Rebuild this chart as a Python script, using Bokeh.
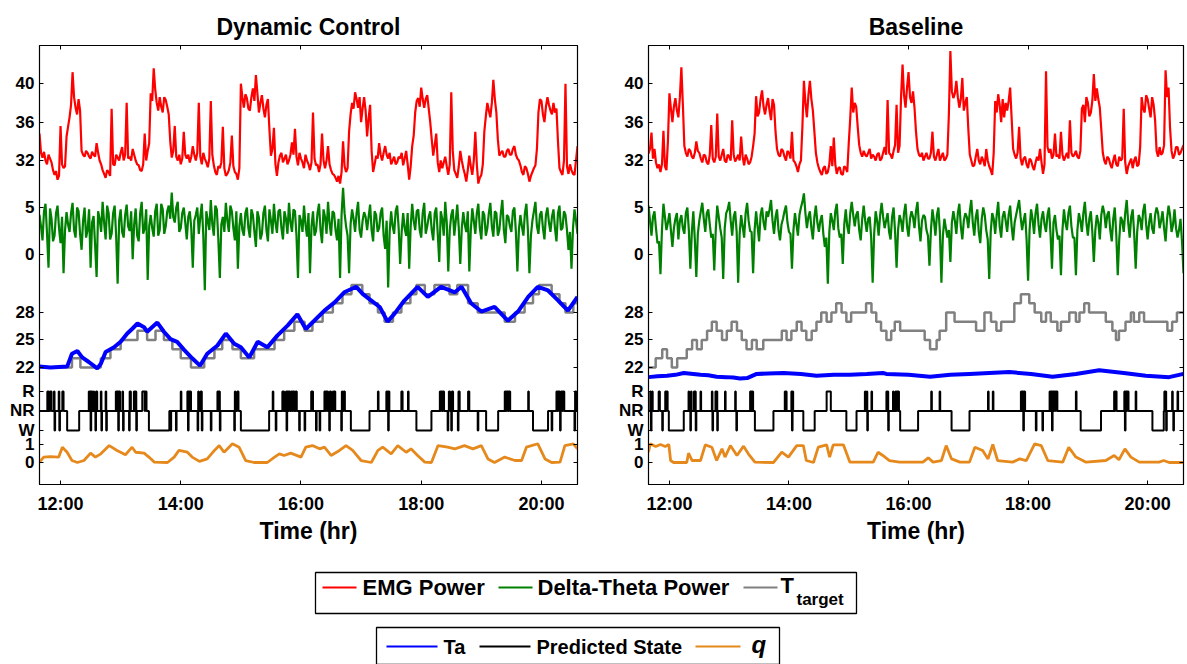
import numpy as np
from bokeh.plotting import figure
from bokeh.layouts import column, row
from bokeh.models import Range1d, FixedTicker, LinearAxis
from bokeh.core.properties import value
from bokeh.embed import file_html
from bokeh.resources import INLINE

# ---------------- data (hours of day) ----------------
# power traces: samples every DT hours from T0, plus the readings half-way between them
T0, DT = 11.65, 0.05

emg_dyn = [
    34.8, 32.3, 32.0, 32.6, 31.8, 30.5, 30.0, 35.6, 31.2, 34.5,
    36.5, 41.2, 37.5, 38.4, 33.0, 32.4, 32.8, 32.2, 32.6, 33.8,
    32.0, 31.0, 30.2, 30.8, 37.4, 31.5, 32.3, 32.8, 32.0, 38.0,
    32.4, 33.2, 32.0, 31.5, 30.9, 34.8, 33.0, 39.0, 41.6, 38.0,
    38.6, 37.0, 38.3, 36.8, 32.3, 35.6, 32.0, 31.6, 35.0, 32.2,
    31.8, 33.5, 32.0, 38.0, 31.6, 32.2, 31.3, 38.2, 31.5, 30.5,
    31.2, 35.5, 30.4, 31.0, 34.6, 30.8, 30.0, 40.0, 37.5, 38.5,
    37.2, 39.5, 40.9, 37.0, 38.8, 36.5, 38.4, 32.5, 35.4, 30.4,
    32.5, 31.8, 32.6, 32.0, 33.9, 35.3, 31.5, 32.2, 31.2, 32.0,
    31.0, 37.0, 31.5, 30.8, 34.8, 31.2, 33.5, 31.0, 30.5, 29.8,
    29.6, 34.0, 30.8, 35.0, 38.0, 39.1, 37.5, 36.0, 38.6, 34.5,
    37.8, 30.8, 32.5, 33.8, 32.0, 33.5, 32.2, 31.6, 32.4, 31.8,
    32.2, 31.5, 33.0, 30.0, 33.5, 37.0, 38.5, 39.6, 37.5, 38.8,
    36.0, 32.5, 34.8, 30.8, 31.2, 32.4, 30.5, 39.1, 31.0, 30.2,
    33.0, 31.2, 29.8, 32.5, 30.5, 35.0, 29.6, 30.5, 35.0, 38.0,
    36.5, 40.4, 37.0, 32.5, 33.0, 32.4, 33.2, 32.6, 33.5, 32.2,
    31.5, 30.5, 31.2, 29.8, 30.8, 31.5, 37.0, 38.2, 36.0, 38.6,
    37.2, 38.0, 37.4, 31.2, 30.5, 40.0, 30.6, 31.0, 30.5, 33.5,
]
emg_dyn_mid = [
    32.8, 32.9, 31.6, 32.2, 31.0, 30.9, 30.4, 31.6, 31.4, 35.5,
    37.8, 38.6, 36.8, 37.2, 32.6, 33.0, 32.4, 32.9, 32.4, 32.8,
    31.6, 30.6, 31.0, 30.4, 31.6, 32.6, 32.0, 33.4, 32.6, 32.2,
    32.0, 32.6, 31.6, 31.0, 31.6, 32.0, 33.8, 38.2, 39.4, 37.2,
    37.6, 38.6, 37.6, 34.0, 33.0, 32.4, 32.6, 32.2, 32.6, 32.6,
    32.4, 32.6, 32.8, 32.4, 32.8, 31.8, 32.2, 32.6, 30.8, 31.4,
    31.8, 31.2, 30.6, 31.8, 31.4, 30.6, 31.2, 38.6, 38.9, 37.4,
    38.6, 38.2, 39.0, 38.0, 37.4, 37.8, 35.2, 33.2, 31.6, 31.8,
    32.8, 32.2, 31.6, 32.6, 32.6, 32.4, 32.8, 31.8, 32.6, 31.6,
    31.8, 32.2, 31.6, 31.6, 32.0, 32.0, 31.6, 30.6, 30.2, 30.4,
    30.8, 31.4, 31.2, 36.8, 37.4, 38.4, 38.6, 37.4, 37.2, 36.4,
    33.0, 31.6, 32.2, 32.6, 32.8, 32.6, 32.8, 32.0, 31.6, 32.4,
    32.8, 32.2, 31.6, 31.4, 34.6, 38.2, 37.6, 38.4, 38.4, 37.4,
    34.2, 33.6, 31.8, 32.0, 31.8, 31.4, 31.6, 33.0, 30.6, 31.4,
    32.0, 30.6, 31.0, 31.4, 32.0, 31.6, 30.2, 31.6, 36.6, 37.2,
    38.0, 38.4, 34.2, 32.8, 32.4, 33.0, 32.6, 33.2, 32.6, 32.0,
    30.8, 31.4, 30.6, 30.4, 31.2, 33.2, 38.4, 36.8, 37.6, 37.8,
    36.8, 37.0, 34.0, 30.8, 32.0, 31.4, 31.6, 30.6, 32.0,
]

delta_dyn = [
    4.2, 1.5, 5.4, -1.4, 3.8, 2.0, 5.2, 1.2, -2.0, 4.5,
    2.4, 5.5, 1.8, 4.6, 0.5, 5.0, 2.6, -1.4, 4.1, -2.4,
    3.8, 5.6, 1.6, 4.4, 2.2, 5.2, -3.1, 4.8, 1.8, 5.3,
    2.5, -0.5, 4.9, 1.4, 5.6, 2.8, -2.7, 4.2, 1.9, 5.4,
    2.6, 4.8, 3.0, 5.2, 6.6, 3.4, 5.6, 2.8, 5.0, 1.6,
    4.6, -1.4, 4.2, 2.2, 5.4, -3.8, 3.6, 5.8, 2.0, 4.8,
    -2.5, 4.0, 5.5, 2.4, 4.6, 1.5, -1.5, 4.4, 2.0, 5.0,
    1.8, 4.2, 0.8, 3.9, 2.2, 5.2, 1.4, 3.6, 5.4, 2.3,
    4.8, 1.6, 3.8, 5.5, 2.4, 4.6, -2.5, 3.6, 5.2, 1.9,
    -2.0, 4.6, 2.5, 5.4, 1.2, 4.0, 5.6, 2.0, 4.4, 1.5,
    -2.5, 7.1, 3.0, -2.0, 4.8, 2.4, 5.6, 1.8, 4.5, 2.6,
    5.3, 1.4, 4.2, 2.8, 5.0, 0.6, -3.5, 4.6, 2.2, 5.2,
    -1.0, 4.4, 2.0, -1.5, 5.4, 2.6, 4.8, 1.8, 5.5, 3.0,
    4.6, 1.5, 5.0, -0.8, 3.8, 5.6, -1.8, 4.2, 2.0, 5.3,
    -1.0, 4.5, 2.4, -1.8, 4.9, 2.2, 5.4, 1.6, 4.2, 2.8,
    5.5, 1.9, 4.4, 2.6, 5.8, 1.2, 4.0, 2.4, 5.0, -1.8,
    4.2, 2.0, 5.4, -2.0, 3.6, 5.6, 2.2, 4.6, 1.6, 5.0,
    2.4, 4.8, 1.4, 5.2, 2.8, 4.2, 0.5, -1.5, 4.8, 2.2,
]
delta_dyn_mid = [
    3.0, 4.6, 2.2, 4.9, 1.4, 4.4, 2.8, 4.0, 2.6, 3.2,
    4.4, 2.6, 5.0, 2.2, 3.6, 1.8, 4.8, 3.4, 1.0, 4.6,
    2.4, 3.4, 5.2, 1.6, 4.4, 2.0, 3.6, 2.4, 4.2, 3.0,
    4.6, 3.2, 2.0, 4.4, 2.2, 4.8, 3.0, 2.8, 4.6, 2.0,
    5.4, 2.2, 4.6, 3.8, 4.0, 5.0, 2.4, 4.4, 3.4, 4.0,
    2.8, 3.6, 5.0, 4.0, 2.0, 4.6, 2.6, 3.2, 5.2, 1.6,
    3.2, 2.4, 3.6, 5.2, 2.8, 4.6, 3.0, 2.6, 4.4, 2.8,
    4.8, 2.4, 4.6, 1.6, 4.4, 2.6, 4.8, 2.2, 3.4, 4.6,
    2.8, 4.6, 2.2, 3.4, 4.8, 2.0, 4.2, 2.4, 3.2, 4.4,
    3.0, 2.0, 4.4, 2.6, 4.8, 2.2, 3.4, 4.6, 2.6, 3.8,
    4.2, 4.4, 2.0, 3.2, 3.8, 4.4, 2.6, 3.6, 4.0, 4.0,
    2.6, 4.6, 2.4, 4.4, 2.0, 3.6, 2.4, 3.0, 4.6, 2.8,
    2.4, 2.8, 4.4, 3.0, 3.6, 4.6, 2.6, 4.4, 2.2, 4.0,
    2.6, 4.4, 2.2, 4.6, 2.0, 3.4, 2.6, 4.8, 3.6, 2.8,
    2.8, 3.2, 4.6, 2.6, 3.6, 4.4, 2.8, 4.6, 2.0, 4.4,
    3.0, 4.6, 2.0, 4.4, 2.6, 4.2, 3.0, 4.6, 2.4, 2.6,
    3.0, 4.4, 2.6, 2.0, 4.6, 3.0, 4.2, 2.8, 4.2, 3.4,
    4.0, 2.8, 4.4, 2.6, 4.6, 2.6, 2.4, 2.8, 3.6,
]

emg_base = [
    32.7, 34.9, 33.2, 31.2, 30.8, 35.1, 31.0, 39.0, 36.0, 38.5,
    36.5, 41.7, 33.5, 32.4, 33.0, 32.2, 34.0, 32.8, 31.8, 32.5,
    31.6, 35.7, 31.8, 36.9, 32.0, 33.2, 31.8, 32.4, 36.2, 31.9,
    32.6, 34.5, 31.5, 32.2, 31.8, 33.5, 38.7, 37.0, 39.3, 36.8,
    38.5, 36.2, 37.8, 33.2, 32.4, 33.0, 32.0, 32.8, 35.0, 31.8,
    30.8, 32.0, 40.3, 36.5, 40.3, 37.2, 32.8, 31.2, 30.5, 31.4,
    30.8, 33.5, 34.4, 30.6, 31.3, 30.5, 31.2, 33.8, 39.6, 38.0,
    35.5, 32.8, 33.0, 32.4, 33.2, 32.6, 32.0, 32.8, 32.2, 33.4,
    38.3, 32.6, 33.0, 37.8, 33.5, 42.0, 37.5, 41.2, 38.0, 37.5,
    33.2, 32.4, 32.0, 32.8, 32.2, 35.0, 32.0, 33.2, 32.4, 32.0,
    32.6, 43.4, 38.5, 40.3, 37.5, 40.6, 38.0, 35.3, 32.0, 31.5,
    33.2, 31.6, 32.0, 33.2, 31.4, 30.5, 38.2, 38.9, 36.0, 36.5,
    37.2, 39.6, 33.2, 32.2, 35.5, 31.5, 32.4, 31.2, 32.0, 31.0,
    32.4, 33.2, 30.6, 41.3, 32.8, 32.2, 34.8, 32.6, 35.0, 32.0,
    32.8, 36.2, 32.4, 33.0, 32.2, 37.4, 36.0, 38.0, 37.0, 41.0,
    39.5, 37.5, 32.8, 31.6, 32.2, 31.2, 32.6, 31.4, 32.0, 37.4,
    30.6, 31.8, 31.2, 32.4, 31.6, 38.6, 37.0, 38.4, 36.5, 37.8,
    33.0, 33.4, 32.8, 41.4, 39.6, 33.0, 32.6, 33.4, 32.8, 33.6,
]
emg_base_mid = [
    33.2, 32.2, 31.8, 31.6, 31.6, 31.4, 34.0, 37.4, 37.6, 37.2,
    38.6, 37.8, 32.8, 33.2, 32.4, 32.8, 33.0, 32.2, 32.6, 31.8,
    32.6, 32.2, 32.4, 32.4, 32.6, 32.0, 32.6, 32.0, 32.6, 32.2,
    32.0, 32.4, 32.6, 31.6, 32.4, 34.8, 36.6, 38.4, 37.6, 37.8,
    37.2, 38.4, 35.0, 32.6, 33.2, 32.4, 33.0, 32.2, 32.0, 31.4,
    31.6, 35.6, 38.0, 38.8, 38.4, 35.0, 31.8, 30.8, 31.2, 30.6,
    31.6, 31.4, 31.6, 31.2, 30.6, 31.4, 30.8, 36.4, 37.0, 37.6,
    33.6, 32.4, 32.6, 32.8, 32.2, 32.4, 32.6, 32.0, 32.8, 32.6,
    32.8, 32.2, 33.6, 32.8, 38.6, 38.8, 39.6, 38.6, 39.2, 35.0,
    32.6, 32.8, 32.4, 32.2, 32.8, 32.4, 32.6, 32.0, 32.8, 32.2,
    36.8, 39.2, 39.0, 38.6, 38.4, 37.2, 38.6, 32.6, 31.4, 32.4,
    32.0, 32.4, 31.4, 32.0, 31.0, 32.8, 37.0, 37.8, 38.4, 38.0,
    38.2, 36.4, 32.6, 32.8, 32.2, 32.2, 31.6, 32.2, 31.4, 31.8,
    32.0, 31.8, 31.6, 33.4, 33.2, 32.6, 32.4, 32.2, 32.6, 32.4,
    32.2, 32.8, 32.6, 32.4, 33.0, 37.8, 38.6, 36.6, 38.2, 38.2,
    38.4, 35.2, 32.0, 32.4, 31.6, 32.0, 31.6, 32.4, 32.2, 31.8,
    31.4, 32.2, 32.0, 31.4, 33.4, 37.4, 38.8, 37.4, 38.6, 36.2,
    32.4, 32.6, 33.6, 38.6, 35.4, 32.2, 33.4, 32.6, 33.2,
]

delta_base = [
    5.2, 2.0, 4.6, 1.2, -2.1, 5.4, 2.6, 4.4, 0.8, 3.8,
    1.6, 4.2, 2.2, 5.0, -1.5, 4.6, -2.4, 3.6, 5.5, 2.4,
    4.8, 1.8, -1.7, 5.2, 2.8, -2.6, 4.4, 5.6, 2.0, 4.6,
    -3.0, 4.2, 1.8, 5.5, 2.5, -2.0, 4.6, 1.4, 5.0, 2.6,
    4.0, 5.8, 2.2, 4.8, 1.5, 3.8, 5.2, 2.4, -1.5, 4.4,
    2.0, 5.0, 6.5, 2.8, 4.6, 1.6, 5.2, 2.4, 4.2, 0.8,
    -3.1, 4.4, 2.6, 5.4, 1.8, -1.0, 4.8, 2.2, 5.6, 3.0,
    4.6, 1.5, 5.2, 2.4, 4.0, -3.0, 4.6, 2.0, 5.5, 2.8,
    4.4, 1.6, 5.0, -1.4, 4.2, 2.4, 5.4, 1.9, 4.6, 2.8,
    5.6, 1.4, 4.2, 2.6, -1.2, 4.8, 2.0, 5.0, -3.0, 3.8,
    1.8, -0.8, 4.6, 2.2, 5.4, 1.6, 4.4, 2.8, 5.8, 2.0,
    4.8, 1.2, 5.0, 2.6, -2.6, 4.4, 2.2, 5.6, 1.8, 4.6,
    2.4, 5.2, 1.5, 4.2, 5.8, 2.6, 4.4, -2.8, 4.8, 2.2,
    5.4, 1.8, 4.6, 2.4, 5.0, -1.5, 4.2, 1.6, -2.2, 4.8,
    2.6, 5.2, 1.8, -2.2, 4.4, 2.4, 5.6, 2.0, 4.6, -0.8,
    4.2, 1.6, 5.2, 2.8, 4.6, 1.4, 5.0, -2.2, 4.0, 2.4,
    5.8, 1.8, 4.8, -1.5, 4.2, 2.6, 5.4, 1.6, 4.4, 2.2,
    5.0, 2.8, 4.6, 1.4, 5.2, 2.4, 4.8, 1.8, 3.8, -2.0,
]
delta_base_mid = [
    3.6, 4.0, 2.8, 1.4, 2.6, 4.0, 3.4, 2.6, 2.8, 4.4,
    3.6, 2.8, 4.4, 2.6, 2.4, 1.6, 2.2, 4.6, 3.8, 4.4,
    3.2, 2.2, 2.6, 4.0, 1.8, 2.8, 4.8, 3.6, 4.0, 2.4,
    2.2, 3.0, 4.4, 3.6, 2.4, 2.6, 3.0, 4.2, 3.4, 4.6,
    4.8, 3.6, 4.0, 2.6, 3.2, 4.6, 3.4, 2.2, 2.6, 3.2,
    4.2, 5.6, 4.4, 4.0, 2.8, 4.0, 3.4, 3.6, 2.2, 1.8,
    2.4, 3.6, 4.6, 2.8, 2.2, 3.2, 3.0, 4.4, 4.2, 4.2,
    2.6, 3.8, 3.6, 3.8, 1.8, 2.2, 3.6, 4.2, 4.0, 3.6,
    2.4, 4.0, 2.4, 2.6, 3.6, 4.4, 3.0, 3.8, 4.0, 4.6,
    3.0, 3.6, 4.0, 2.0, 2.6, 3.6, 4.2, 2.4, 2.0, 2.8,
    2.6, 3.4, 3.6, 4.4, 3.0, 3.6, 4.0, 4.6, 3.4, 4.0,
    2.4, 3.8, 4.2, 1.6, 2.4, 3.8, 4.2, 3.0, 4.0, 3.6,
    4.2, 3.0, 3.4, 5.0, 4.0, 3.6, 1.6, 2.6, 3.8, 4.4,
    3.2, 3.8, 3.2, 4.2, 2.2, 3.4, 2.6, 2.0, 2.6, 3.4,
    4.4, 3.0, 1.8, 2.6, 3.6, 4.4, 3.4, 3.8, 2.4, 2.6,
    3.4, 4.2, 4.4, 4.2, 2.6, 3.8, 2.2, 1.6, 3.6, 4.4,
    3.4, 4.0, 2.2, 2.4, 3.8, 4.6, 3.2, 3.4, 2.8, 4.2,
    4.4, 3.6, 2.8, 3.8, 4.2, 3.2, 2.8, 2.6, 1.4,
]

ta_dyn_t = [11.65, 11.83, 12.11, 12.19, 12.28, 12.36, 12.47, 12.61, 12.67, 12.75,
            12.89, 13.00, 13.11, 13.19, 13.28, 13.39, 13.44, 13.61, 13.72, 13.83,
            13.94, 14.06, 14.19, 14.32, 14.44, 14.61, 14.75, 14.89, 15.00, 15.14,
            15.28, 15.44, 15.61, 15.78, 15.94, 16.08, 16.22, 16.39, 16.56, 16.72,
            16.92, 17.03, 17.17, 17.31, 17.44, 17.56, 17.72, 17.94, 18.11, 18.33,
            18.56, 18.67, 18.83, 19.00, 19.22, 19.44, 19.61, 19.78, 19.94, 20.11,
            20.28, 20.44, 20.60]
ta_dyn = [22.1, 22.0, 22.1, 23.5, 23.8, 23.1, 22.6, 21.9, 22.4, 23.7,
          24.2, 24.8, 25.7, 26.2, 26.8, 26.4, 25.9, 26.9, 25.9, 25.1,
          24.8, 23.9, 23.0, 22.2, 23.5, 24.4, 25.7, 24.6, 24.2, 23.1,
          24.8, 24.2, 25.5, 26.6, 27.8, 26.2, 27.1, 28.2, 29.1, 30.2,
          30.8, 30.0, 29.3, 28.6, 27.0, 27.9, 29.3, 30.8, 29.7, 30.8,
          30.2, 30.8, 29.0, 28.1, 28.6, 27.1, 28.1, 29.7, 30.8, 30.4,
          29.3, 28.2, 29.7]

tt_dyn_t = [11.65, 12.19, 12.33, 12.67, 12.83, 13.00, 13.28, 13.44, 13.58, 13.72,
            13.86, 14.00, 14.17, 14.39, 14.56, 14.69, 14.86, 15.00, 15.22, 15.56,
            15.72, 15.89, 16.06, 16.19, 16.36, 16.53, 16.69, 16.84, 17.02, 17.14,
            17.28, 17.39, 17.53, 17.67, 17.82, 17.92, 18.06, 18.22, 18.47, 18.60,
            18.78, 18.94, 19.39, 19.56, 19.72, 19.86, 19.96, 20.17, 20.30, 20.40,
            20.53, 20.60]
tt_dyn = [22, 23, 22, 23, 24, 25, 26, 25, 26, 25,
          24, 23, 22, 23, 24, 25, 24, 23, 24, 25,
          26, 27, 26, 27, 28, 29, 30, 31, 30, 29,
          28, 27, 28, 29, 30, 31, 30, 31, 30, 31,
          29, 28, 27, 28, 29, 30, 31, 30, 29, 28,
          29, 29]

# predicted state: 0 = W, 1 = NR, 2 = R (value holds until next time)
st_dyn_t = [11.65, 11.78, 11.79, 11.80, 11.81, 11.83, 11.85, 11.89, 11.90, 11.91,
            11.97, 11.98, 11.99, 12.03, 12.05, 12.11, 12.31, 12.47, 12.48, 12.49,
            12.50, 12.51, 12.53, 12.55, 12.56, 12.58, 12.59, 12.61, 12.67, 12.68,
            12.69, 12.75, 12.76, 12.77, 12.92, 12.93, 12.94, 12.96, 12.97, 12.99,
            13.03, 13.04, 13.05, 13.14, 13.15, 13.17, 13.22, 13.23, 13.24, 13.26,
            13.27, 13.36, 13.40, 13.41, 13.43, 13.47, 13.81, 13.83, 13.84, 13.92,
            13.93, 14.00, 14.01, 14.11, 14.12, 14.13, 14.15, 14.16, 14.17, 14.28,
            14.29, 14.30, 14.33, 14.35, 14.36, 14.50, 14.51, 14.61, 14.62, 14.63,
            14.65, 14.66, 14.89, 14.90, 14.91, 14.94, 14.96, 15.00, 15.47, 15.53,
            15.54, 15.58, 15.59, 15.69, 15.70, 15.71, 15.72, 15.75, 15.76, 15.77,
            15.79, 15.80, 15.82, 15.84, 15.86, 15.87, 15.89, 15.91, 15.93, 15.97,
            15.98, 16.06, 16.07, 16.17, 16.18, 16.19, 16.20, 16.25, 16.26, 16.31,
            16.32, 16.39, 16.40, 16.41, 16.43, 16.44, 16.45, 16.47, 16.48, 16.50,
            16.53, 16.54, 16.55, 16.57, 16.67, 16.68, 16.69, 16.71, 16.73, 16.83,
            17.14, 17.28, 17.29, 17.42, 17.43, 17.44, 17.45, 17.46, 17.47, 17.67,
            17.69, 17.78, 17.79, 17.92, 18.17, 18.31, 18.32, 18.33, 18.35, 18.36,
            18.38, 18.44, 18.45, 18.46, 18.48, 18.50, 18.51, 18.53, 18.61, 18.62,
            18.64, 18.78, 18.80, 18.94, 18.95, 19.08, 19.28, 19.39, 19.40, 19.41,
            19.42, 19.43, 19.45, 19.46, 19.48, 19.78, 19.79, 19.86, 20.11, 20.17,
            20.18, 20.25, 20.26, 20.27, 20.29, 20.30, 20.31, 20.32, 20.33, 20.35,
            20.36, 20.38, 20.55, 20.56, 20.58, 20.60]
st_dyn = [1, 2, 1, 2, 1, 2, 1, 2, 0, 1,
          2, 0, 1, 2, 1, 0, 1, 2, 1, 2,
          0, 2, 1, 2, 1, 0, 2, 1, 2, 0,
          1, 2, 0, 1, 2, 1, 2, 0, 2, 1,
          2, 0, 1, 0, 2, 1, 2, 1, 2, 0,
          1, 2, 1, 2, 1, 0, 1, 0, 1, 0,
          1, 2, 1, 2, 0, 2, 1, 2, 1, 0,
          2, 1, 2, 0, 1, 0, 1, 2, 1, 2,
          0, 1, 0, 2, 1, 2, 1, 0, 1, 2,
          1, 0, 1, 2, 1, 2, 1, 2, 0, 2,
          1, 2, 1, 2, 1, 2, 1, 2, 1, 0,
          1, 0, 1, 2, 1, 2, 1, 0, 1, 0,
          1, 2, 1, 2, 1, 2, 1, 0, 2, 1,
          2, 1, 2, 1, 0, 2, 1, 2, 1, 0,
          1, 2, 1, 2, 1, 2, 0, 2, 1, 2,
          1, 2, 1, 0, 1, 2, 1, 2, 1, 2,
          1, 0, 1, 2, 1, 0, 2, 1, 0, 2,
          1, 2, 1, 0, 1, 0, 1, 2, 1, 2,
          1, 2, 1, 2, 1, 2, 1, 0, 1, 0,
          1, 2, 1, 2, 1, 2, 0, 1, 2, 1,
          2, 1, 0, 2, 1, 1]

q_dyn_t = [11.65, 11.72, 11.83, 11.97, 12.03, 12.11, 12.19, 12.28, 12.39, 12.50,
           12.58, 12.67, 12.81, 12.94, 13.08, 13.19, 13.25, 13.39, 13.47, 13.56,
           13.78, 13.89, 13.97, 14.11, 14.19, 14.31, 14.44, 14.56, 14.64, 14.72,
           14.86, 14.97, 15.08, 15.22, 15.44, 15.56, 15.64, 15.72, 15.83, 16.00,
           16.08, 16.19, 16.31, 16.39, 16.50, 16.64, 16.75, 16.86, 17.00, 17.17,
           17.28, 17.36, 17.50, 17.61, 17.75, 17.83, 17.94, 18.06, 18.17, 18.28,
           18.44, 18.56, 18.72, 18.86, 19.00, 19.11, 19.22, 19.39, 19.56, 19.67,
           19.75, 19.94, 20.06, 20.17, 20.31, 20.39, 20.53, 20.60]
q_dyn = [0.02, 0.30, 0.33, 0.30, 0.85, 0.57, 0.11, 0.00, 0.11, 0.52,
         0.30, 0.48, 0.94, 0.67, 0.43, 0.85, 0.57, 0.52, 0.30, 0.02,
         0.00, 0.30, 0.67, 0.57, 0.30, 0.06, 0.20, 0.67, 0.94, 0.57,
         1.04, 0.85, 0.11, 0.00, 0.00, 0.30, 0.48, 0.39, 0.52, 0.30,
         0.85, 0.94, 0.76, 0.85, 0.39, 0.67, 0.94, 0.67, 0.11, 0.00,
         0.67, 0.85, 0.48, 0.94, 0.57, 0.76, 0.39, 0.02, 0.00, 0.94,
         0.85, 0.76, 0.94, 0.76, 0.94, 0.20, 0.00, 0.30, 0.11, 0.11,
         0.85, 1.04, 0.20, 0.00, 0.02, 0.94, 1.04, 0.76]

ta_base_t = [11.65, 11.80, 11.96, 12.10, 12.24, 12.40, 12.52, 12.65, 12.79, 12.95,
             13.07, 13.18, 13.30, 13.46, 13.65, 13.91, 14.20, 14.46, 14.75, 15.02,
             15.30, 15.57, 15.63, 16.00, 16.36, 16.70, 17.02, 17.35, 17.69, 18.05,
             18.41, 18.80, 19.19, 19.60, 19.97, 20.36, 20.60]
ta_base = [20.95, 21.05, 21.10, 21.20, 21.40, 21.30, 21.20, 21.15, 21.00, 20.95,
           20.90, 20.80, 20.85, 21.30, 21.35, 21.40, 21.30, 21.10, 21.20, 21.20,
           21.30, 21.40, 21.30, 21.20, 21.00, 21.20, 21.30, 21.40, 21.50, 21.30,
           21.00, 21.30, 21.70, 21.40, 21.10, 20.95, 21.30]

tt_base_t = [11.65, 11.77, 11.88, 11.96, 12.04, 12.13, 12.29, 12.38, 12.46, 12.54,
             12.63, 12.71, 12.79, 12.88, 12.96, 13.04, 13.13, 13.21, 13.29, 13.38,
             13.46, 13.57, 13.88, 13.96, 14.04, 14.13, 14.21, 14.29, 14.38, 14.46,
             14.54, 14.63, 14.71, 14.79, 14.88, 14.96, 15.04, 15.29, 15.38, 15.46,
             15.54, 15.63, 15.71, 15.77, 15.86, 16.27, 16.36, 16.47, 16.52, 16.63,
             16.77, 17.13, 17.27, 17.38, 17.47, 17.55, 17.77, 17.88, 18.02, 18.11,
             18.22, 18.30, 18.38, 18.49, 18.55, 18.69, 18.80, 18.86, 18.94, 19.02,
             19.30, 19.41, 19.47, 19.52, 19.63, 19.72, 19.77, 19.86, 19.94, 20.33,
             20.41, 20.49, 20.60]
tt_base = [22, 23, 24, 23, 22, 23, 24, 25, 24, 25,
           26, 27, 26, 25, 26, 27, 26, 25, 24, 25,
           24, 25, 26, 25, 26, 27, 26, 25, 26, 27,
           28, 27, 28, 29, 28, 27, 28, 29, 28, 27,
           26, 25, 26, 27, 26, 25, 24, 25, 26, 28,
           27, 26, 28, 27, 26, 27, 29, 30, 29, 28,
           27, 28, 27, 26, 27, 28, 27, 28, 29, 28,
           27, 26, 25, 26, 27, 28, 27, 28, 27, 26,
           27, 28, 28]

st_base_t = [11.65, 11.68, 11.69, 11.70, 11.71, 11.72, 11.82, 11.84, 11.88, 11.89,
             11.93, 11.94, 11.95, 11.97, 11.99, 12.24, 12.32, 12.33, 12.35, 12.36,
             12.37, 12.41, 12.42, 12.43, 12.44, 12.45, 12.52, 12.53, 12.71, 12.72,
             12.73, 12.77, 12.78, 12.79, 12.80, 12.81, 12.93, 12.94, 13.10, 13.11,
             13.12, 13.13, 13.35, 13.36, 13.37, 13.38, 13.39, 13.40, 13.43, 13.74,
             13.93, 13.94, 13.95, 13.96, 14.04, 14.05, 14.06, 14.07, 14.24, 14.43,
             14.63, 14.70, 14.96, 15.13, 15.27, 15.28, 15.30, 15.31, 15.32, 15.38,
             15.39, 15.63, 15.64, 15.65, 15.66, 15.67, 15.74, 15.75, 15.78, 15.79,
             15.80, 15.82, 15.83, 15.84, 15.86, 16.16, 16.38, 16.39, 16.52, 16.53,
             16.72, 17.02, 17.33, 17.34, 17.41, 17.42, 17.88, 17.89, 17.90, 17.92,
             17.93, 17.95, 18.13, 18.14, 18.24, 18.25, 18.36, 18.37, 18.38, 18.40,
             18.41, 18.43, 18.44, 18.46, 18.47, 18.49, 18.80, 18.81, 18.88, 19.22,
             19.44, 19.45, 19.46, 19.48, 19.61, 19.62, 19.63, 19.65, 19.66, 19.68,
             19.80, 19.81, 20.08, 20.27, 20.28, 20.29, 20.30, 20.31, 20.32, 20.41,
             20.42, 20.43, 20.44, 20.50, 20.51, 20.60]
st_base = [1, 2, 0, 1, 2, 1, 2, 1, 0, 1,
           2, 1, 2, 1, 0, 1, 2, 1, 0, 2,
           1, 2, 1, 2, 0, 1, 2, 1, 2, 0,
           1, 2, 1, 2, 0, 1, 2, 1, 2, 1,
           0, 1, 2, 1, 2, 1, 2, 1, 0, 1,
           2, 1, 2, 1, 2, 0, 2, 1, 0, 1,
           2, 1, 0, 1, 2, 1, 2, 0, 1, 2,
           1, 2, 1, 2, 0, 1, 2, 1, 2, 1,
           2, 1, 2, 1, 0, 1, 2, 1, 2, 1,
           0, 1, 2, 1, 2, 1, 2, 1, 2, 0,
           2, 1, 0, 1, 0, 1, 2, 1, 2, 0,
           2, 1, 2, 1, 2, 1, 2, 1, 0, 1,
           2, 1, 2, 1, 2, 0, 2, 1, 2, 1,
           2, 1, 0, 1, 2, 1, 2, 0, 1, 2,
           1, 0, 1, 2, 1, 1]

q_base_t = [11.65, 11.68, 11.77, 11.85, 11.93, 11.99, 12.02, 12.07, 12.29, 12.32,
            12.38, 12.52, 12.60, 12.71, 12.79, 12.88, 12.93, 13.02, 13.13, 13.24,
            13.32, 13.43, 13.74, 13.88, 13.99, 14.13, 14.24, 14.29, 14.41, 14.49,
            14.63, 14.68, 14.74, 14.91, 15.02, 15.41, 15.49, 15.57, 15.68, 15.85,
            16.24, 16.33, 16.41, 16.55, 16.63, 16.72, 16.86, 17.02, 17.11, 17.24,
            17.33, 17.41, 17.49, 17.74, 17.86, 17.97, 18.11, 18.22, 18.33, 18.58,
            18.68, 18.80, 18.97, 19.30, 19.44, 19.52, 19.62, 19.72, 19.86, 20.19,
            20.27, 20.36, 20.60]
q_base = [0.57, 1.04, 0.89, 1.00, 0.89, 1.00, 0.11, 0.00, 0.00, 0.52,
          0.11, 0.11, 0.98, 0.85, 0.11, 0.76, 0.30, 0.94, 0.39, 0.91,
          0.48, 0.02, 0.00, 0.57, 0.30, 0.94, 0.94, 0.11, 0.00, 0.85,
          0.98, 0.30, 0.98, 0.98, 0.02, 0.02, 0.57, 0.39, 0.11, 0.02,
          0.02, 0.26, 0.02, 0.11, 0.94, 0.20, 0.02, 0.02, 0.85, 0.67,
          0.20, 1.00, 0.11, 0.02, 0.20, 0.11, 1.04, 0.94, 0.11, 0.02,
          0.85, 0.30, 0.02, 0.11, 0.39, 0.15, 0.76, 0.30, 0.02, 0.02,
          0.11, 0.00, 0.00]

x_ticks = [12, 14, 16, 18, 20]
x_tick_labels = ["12:00", "14:00", "16:00", "18:00", "20:00"]
emg_ticks = [32, 36, 40]
delta_ticks = [0, 5]
ta_ticks = [22, 25, 28]
state_ticks = [0, 1, 2]
state_labels = ["W", "NR", "R"]
q_ticks = [0, 1]

# ---------------- layout / style ----------------
# each trace is stacked in its own lane: y = base + scale * (v - ref)
LANES = {"emg": (-160, 9.6, 32), "delta": (-254, 9.4, 0), "ta": (-367, 9.17, 22),
         "state": (-430, 19.5, 0), "q": (-462, 18.0, 0)}
COL = {"emg": "#ff0000", "delta": "#008000", "tt": "#808080", "ta": "#0000ff",
       "state": "#000000", "q": "#e6891d"}
FONT = "Liberation Sans"


def lane(name, vals):
    b, s, r = LANES[name]
    return [b + s * (v - r) for v in vals]


def dense(main, mid):
    """merge grid samples with the half-step readings -> (times, values)"""
    t, v = [], []
    for i, val in enumerate(main):
        t.append(T0 + DT * i)
        v.append(val)
        if i < len(mid) and i < len(main) - 1:
            t.append(T0 + DT * (i + 0.5))
            v.append(mid[i])
    return t, v


def ytick_map():
    m = {}
    for name, ticks, labels in [("emg", emg_ticks, None), ("delta", delta_ticks, None),
                                ("ta", ta_ticks, None), ("state", state_ticks, state_labels),
                                ("q", q_ticks, None)]:
        pos = lane(name, ticks)
        for i, p in enumerate(pos):
            m[int(round(p))] = labels[i] if labels else str(ticks[i])
    return m


def panel(title, emg, emg_mid, delta, delta_mid, ta_t, ta, tt_t, tt, st_t, st, q_t, q,
          bl, br, fw):
    p = figure(frame_width=fw, frame_height=439, min_border_left=bl, min_border_right=br,
               min_border_top=45, min_border_bottom=61,
               x_range=Range1d(11.65, 20.6), y_range=Range1d(-484, -45),
               toolbar_location=None, output_backend="svg")
    p.title.text = title
    p.title.align = "center"
    p.title.vertical_align = "middle"
    p.title.text_font = FONT
    p.title.text_font_style = "bold"
    p.title.text_font_size = "23px"
    p.title.text_color = "black"
    p.title.standoff = 10
    p.xgrid.visible = False
    p.ygrid.visible = False
    p.outline_line_color = "black"
    p.outline_line_width = 1.2
    p.background_fill_color = "white"
    p.border_fill_color = "white"

    et, ev = dense(emg, emg_mid)
    dt_, dv = dense(delta, delta_mid)
    p.line(et, lane("emg", ev), line_color=COL["emg"], line_width=2.2)
    p.line(dt_, lane("delta", dv), line_color=COL["delta"], line_width=2.2)
    p.step(tt_t, lane("ta", tt), mode="after", line_color=COL["tt"], line_width=2.5)
    p.line(ta_t, lane("ta", ta), line_color=COL["ta"], line_width=4)
    p.step(st_t, lane("state", st), mode="after", line_color=COL["state"], line_width=2)
    p.line(q_t, lane("q", q), line_color=COL["q"], line_width=2.8)

    ymap = ytick_map()
    xmap = {t: lab for t, lab in zip(x_ticks, x_tick_labels)}

    for ax in p.xaxis + p.yaxis:
        ax.major_tick_in = 4
        ax.major_tick_out = 0
        ax.minor_tick_line_color = None
        ax.axis_line_color = "black"
        ax.major_tick_line_color = "black"
        ax.major_label_text_font = FONT
        ax.major_label_text_font_style = "bold"
        ax.major_label_text_color = "black"
    p.xaxis.ticker = FixedTicker(ticks=x_ticks)
    p.xaxis.major_label_overrides = xmap
    p.xaxis.major_label_text_font_size = "18px"
    p.xaxis.major_label_standoff = 9
    p.xaxis.axis_label = "Time (hr)"
    p.xaxis.axis_label_text_font = FONT
    p.xaxis.axis_label_text_font_style = "bold"
    p.xaxis.axis_label_text_font_size = "23px"
    p.xaxis.axis_label_text_color = "black"
    p.xaxis.axis_label_standoff = 1
    p.yaxis.ticker = FixedTicker(ticks=sorted(ymap.keys()))
    p.yaxis.major_label_overrides = ymap
    p.yaxis.major_label_text_font_size = "17px"
    p.yaxis.major_label_standoff = 5

    # mirrored inward ticks on top and right
    top = LinearAxis(ticker=FixedTicker(ticks=x_ticks),
                     major_label_overrides={t: "" for t in x_ticks},
                     major_label_text_font_size="1px", major_label_standoff=0,
                     major_tick_in=4, major_tick_out=0, minor_tick_line_color=None,
                     axis_line_color="black")
    p.add_layout(top, "above")
    right = LinearAxis(ticker=FixedTicker(ticks=sorted(ymap.keys())),
                       major_label_overrides={k: "" for k in ymap},
                       major_label_text_font_size="1px", major_label_standoff=0,
                       major_tick_in=4, major_tick_out=0, minor_tick_line_color=None,
                       axis_line_color="black")
    p.add_layout(right, "right")
    return p


p1 = panel("Dynamic Control", emg_dyn, emg_dyn_mid, delta_dyn, delta_dyn_mid,
           ta_dyn_t, ta_dyn, tt_dyn_t, tt_dyn, st_dyn_t, st_dyn, q_dyn_t, q_dyn, 39, 33, 538)
p2 = panel("Baseline", emg_base, emg_base_mid, delta_base, delta_base_mid,
           ta_base_t, ta_base, tt_base_t, tt_base, st_base_t, st_base, q_base_t, q_base,
           38, 4, 535)

# ---------------- legend strip (page pixel coordinates) ----------------
lg = figure(frame_width=1187, frame_height=119, min_border=0,
            x_range=Range1d(0, 1187), y_range=Range1d(664, 545),
            x_axis_type=None, y_axis_type=None,
            toolbar_location=None, output_backend="svg")
lg.xgrid.visible = False
lg.ygrid.visible = False
lg.outline_line_color = None
lg.border_fill_color = "white"

lg.quad(left=[315, 376], right=[856, 779], top=[571, 626], bottom=[612, 663],
        fill_color="white", line_color="black", line_width=1.3)

row1 = [("EMG Power", COL["emg"], 322, 356, 362),
        ("Delta-Theta Power", COL["delta"], 498, 532, 537),
        ("", COL["tt"], 743, 777, 780)]
row2 = [("Ta", COL["ta"], 386, 437, 443),
        ("Predicted State", COL["state"], 479, 530, 536),
        ("", COL["q"], 695, 740, 750)]
for items, yc, fs in [(row1, 586, "22px"), (row2, 645, "20px")]:
    lg.segment(x0=[it[2] for it in items], x1=[it[3] for it in items],
               y0=[yc] * len(items), y1=[yc] * len(items),
               line_color=[it[1] for it in items], line_width=2)
    lbl = [it for it in items if it[0]]
    lg.text(x=[it[4] for it in lbl], y=[yc] * len(lbl), text=[it[0] for it in lbl],
            text_font=value(FONT), text_font_style="bold", text_font_size=fs,
            text_baseline="middle", text_align="left", text_color="black")
# T_target with subscript
lg.text(x=[780], y=[584], text=["T"], text_font=value(FONT), text_font_style="bold",
        text_font_size="22px", text_baseline="middle", text_color="black")
lg.text(x=[796], y=[598], text=["target"], text_font=value(FONT), text_font_style="bold",
        text_font_size="17px", text_baseline="middle", text_color="black")
lg.text(x=[751], y=[643], text=["q"], text_font=value(FONT), text_font_style="bold italic",
        text_font_size="24px", text_baseline="middle", text_color="black")

layout = column(row(p1, p2, spacing=0), lg, spacing=0)
open("out.html", "w").write(file_html(layout, INLINE))
